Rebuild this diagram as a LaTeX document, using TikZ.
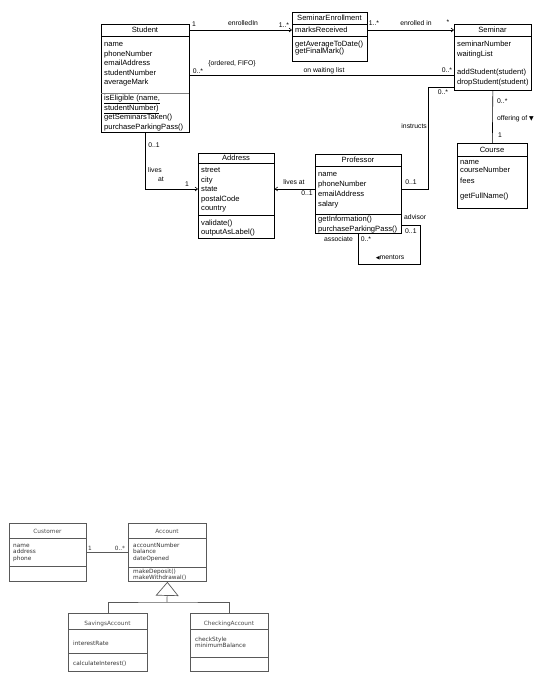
\documentclass[tikz,border=0pt]{standalone}
\usepackage{fontspec}
\setmainfont{Liberation Sans}
\newfontfamily\symf{DejaVu Sans}
\newfontfamily\dvs{DejaVu Sans}
\usetikzlibrary{arrows.meta}
\newcommand\cltx{\fontsize{7.6}{8.6}\selectfont}
\newcommand\lbl{\fontsize{6.8}{8}\selectfont}
\newcommand\sml{\dvs\fontsize{5.8}{6.5}\selectfont}
\newcommand\rowsat[6]{%
  \foreach \rowtext [count=\i] in {#6} {\node[#1] (#2-\i) at ({#3},{#4+(\i-1)*#5}) {\rowtext};}}
\tikzset{
  cls/.style={draw=black, line width=0.7pt, inner sep=0, anchor=north west},
  clsb/.style={draw=black!65, line width=0.8pt, inner sep=0, anchor=north west},
  sep/.style={line width=0.5pt, draw=black},
  sepb/.style={line width=0.7pt, draw=black!65},
  txt/.style={inner sep=0, anchor=base west, font=\cltx},
  ttl/.style={inner sep=0, anchor=base, font=\cltx},
  txtb/.style={inner sep=0, anchor=base west, font=\sml, text=black!80},
  ttlb/.style={inner sep=0, anchor=base, font=\sml, text=black!70},
  lab/.style={inner sep=0, font=\lbl},
  labb/.style={inner sep=0, font=\sml, text=black!80},
  assoc/.style={line width=0.6pt},
  assocb/.style={line width=0.7pt, draw=black!65},
  nav/.style={assoc, -{Straight Barb[length=2.5pt,width=4pt]}},
  gen/.style={assocb, -{Triangle[open, length=14pt, width=23pt]}},
}
\begin{document}
\begin{tikzpicture}[x=1pt,y=-1pt]
\useasboundingbox (0,0) rectangle (557,681);

% ---------- Student ----------
\node[cls, minimum width=88pt, minimum height=108pt] (student) at (101,24) {};
\draw[sep] (101,36) -- (189,36);
\draw[sep, draw=black!50] (101,93) -- (189,93);
\node[ttl] (student-t) at (145,32.5) {Student};
\rowsat{txt}{student-a}{104}{46.5}{9.6}{name,phoneNumber,emailAddress,studentNumber,averageMark}
\rowsat{txt}{student-m}{104}{100.5}{9.5}{{\underline{isEligible (name,}},{\underline{studentNumber)}},getSeminarsTaken(),purchaseParkingPass()}

% ---------- SeminarEnrollment ----------
\node[cls, minimum width=75pt, minimum height=49pt] (se) at (292,12) {};
\draw[sep] (292,24) -- (367,24);
\draw[sep] (292,36) -- (367,36);
\node[ttl] (se-t) at (329.5,20) {SeminarEnrollment};
\node[txt] (se-a1) at (295,32.5) {marksReceived};
\rowsat{txt}{se-m}{295}{46}{7.5}{getAverageToDate(),getFinalMark()}

% ---------- Seminar ----------
\node[cls, minimum width=77pt, minimum height=66pt] (seminar) at (454,24) {};
\draw[sep] (454,36) -- (531,36);
\node[ttl] (seminar-t) at (492.5,32.5) {Seminar};
\rowsat{txt}{seminar-a}{457}{46.5}{9.5}{seminarNumber,waitingList}
\rowsat{txt}{seminar-m}{457}{74.5}{9.5}{addStudent(student),dropStudent(student)}

% ---------- Course ----------
\node[cls, minimum width=70pt, minimum height=65pt] (course) at (457,143) {};
\draw[sep] (457,156) -- (527,156);
\node[ttl] (course-t) at (492,152.5) {Course};
\rowsat{txt}{course-a}{460}{164}{8.3}{name,courseNumber}
\node[txt] (course-a3) at (460,183) {fees};
\node[txt] (course-m1) at (460,198.5) {getFullName()};

% ---------- Address ----------
\node[cls, minimum width=76pt, minimum height=85pt] (address) at (198,153) {};
\draw[sep] (198,163) -- (274,163);
\draw[sep] (198,215) -- (274,215);
\node[ttl] (address-t) at (236,160.5) {Address};
\rowsat{txt}{address-a}{201}{172.5}{9.6}{street,city,state,postalCode,country}
\rowsat{txt}{address-m}{201}{225}{9.5}{validate(),outputAsLabel()}

% ---------- Professor ----------
\node[cls, minimum width=86pt, minimum height=79pt] (professor) at (315,154) {};
\draw[sep] (315,166) -- (401,166);
\draw[sep] (315,214) -- (401,214);
\node[ttl] (professor-t) at (358,162) {Professor};
\rowsat{txt}{professor-a}{318}{176.5}{10}{name,phoneNumber,emailAddress,salary}
\rowsat{txt}{professor-m}{318}{221}{10}{getInformation(),purchaseParkingPass()}

% ---------- connectors (upper) ----------
\draw[nav] ([yshift=-6pt]student.north east) -- ([yshift=-18pt]se.north west);
\draw[nav] ([yshift=-18pt]se.north east) -- ([yshift=-6pt]seminar.north west);
\draw[assoc] ([yshift=-51pt]student.north east) -- ([yshift=-51pt]seminar.north west);
\draw[assoc] ([yshift=-63pt]seminar.north west) -- ++(-26,0) |- ([yshift=-35pt]professor.north east);
\draw[assoc] (seminar.south) -- (course.north);
\draw[nav] (student.south) |- ([yshift=-36pt]address.north west);
\draw[nav] ([yshift=-35pt]professor.north west) -- ([yshift=-36pt]address.north east);
\draw[assoc] ([yshift=-71pt]professor.north east) -- ++(19,0) |- ([yshift=-31pt]professor.south) -- (professor.south);

% ---------- labels (upper) ----------
\node[lab] (l1) at (194,24) {1};
\node[lab] (l2) at (243,23) {enrolledIn};
\node[lab] (l3) at (284,25) {1..*};
\node[lab] (l4) at (374,23) {1..*};
\node[lab] (l5) at (416,23) {enrolled in};
\node[lab] (l6) at (448,22) {*};
\node[lab] (l7) at (198,71) {0..*};
\node[lab] (l8) at (232,64) {\{ordered, FIFO\}};
\node[lab] (l9) at (324,71) {on waiting list};
\node[lab] (l10) at (447,70) {0..*};
\node[lab] (l11) at (443,92) {0..*};
\node[lab, anchor=east] (l12) at (427,126) {instructs};
\node[lab] (l13) at (411,182) {0..1};
\node[lab, anchor=west] (l14) at (497,101) {0..*};
\node[lab, anchor=west] (l15) at (497,119) {offering of {\symf\fontsize{6}{7}\selectfont ▼}};
\node[lab, anchor=west] (l16) at (498,135) {1};
\node[lab] (l17) at (154,145) {0..1};
\node[lab, anchor=west] (l18) at (148,170) {lives};
\node[lab, anchor=west] (l19) at (158,179) {at};
\node[lab] (l20) at (187,184) {1};
\node[lab] (l21) at (294,182) {lives at};
\node[lab] (l22) at (307,193) {0..1};
\node[lab, anchor=west] (l23) at (404,217) {advisor};
\node[lab, anchor=west] (l24) at (405,231) {0..1};
\node[lab, anchor=east] (l25) at (353,239) {associate};
\node[lab] (l26) at (366,239) {0..*};
\node[lab] (l27) at (390,258) {{\symf\fontsize{5}{6}\selectfont ◀}mentors};

% ---------- lower diagram ----------
\node[clsb, minimum width=77pt, minimum height=58pt] (customer) at (9,523) {};
\draw[sepb] (9,538) -- (86,538);
\draw[sepb] (9,566) -- (86,566);
\node[ttlb] (customer-t) at (47.5,533) {Customer};
\rowsat{txtb}{customer-a}{13}{547}{6.7}{name,address,phone}

\node[clsb, minimum width=78pt, minimum height=58pt] (account) at (128,523) {};
\draw[sepb] (128,538) -- (206,538);
\draw[sepb] (128,567) -- (206,567);
\node[ttlb] (account-t) at (167,533) {Account};
\rowsat{txtb}{account-a}{133}{547}{6.7}{accountNumber,balance,dateOpened}
\rowsat{txtb}{account-m}{133}{573}{6}{makeDeposit(),makeWithdrawal()}

\node[clsb, minimum width=79pt, minimum height=58pt] (savings) at (68,613) {};
\draw[sepb] (68,629) -- (147,629);
\draw[sepb] (68,653) -- (147,653);
\node[ttlb] (savings-t) at (107.5,625) {SavingsAccount};
\node[txtb] (savings-a1) at (73,645) {interestRate};
\node[txtb] (savings-m1) at (73,665) {calculateInterest()};

\node[clsb, minimum width=78pt, minimum height=58pt] (checking) at (190,613) {};
\draw[sepb] (190,629) -- (268,629);
\draw[sepb] (190,657) -- (268,657);
\node[ttlb] (checking-t) at (229,625) {CheckingAccount};
\rowsat{txtb}{checking-a}{195}{641}{6}{checkStyle,minimumBalance}

\draw[assocb] ([yshift=-29pt]customer.north east) -- ([yshift=-29pt]account.north west);
\node[labb] (lb1) at (90,548) {1};
\node[labb] (lb2) at (120,548) {0..*};

\coordinate (junc) at (167,602);
\draw[assocb] (savings.north) |- (junc) -| (checking.north);
\draw[gen] (junc) -- (account.south);
\end{tikzpicture}
\end{document}
